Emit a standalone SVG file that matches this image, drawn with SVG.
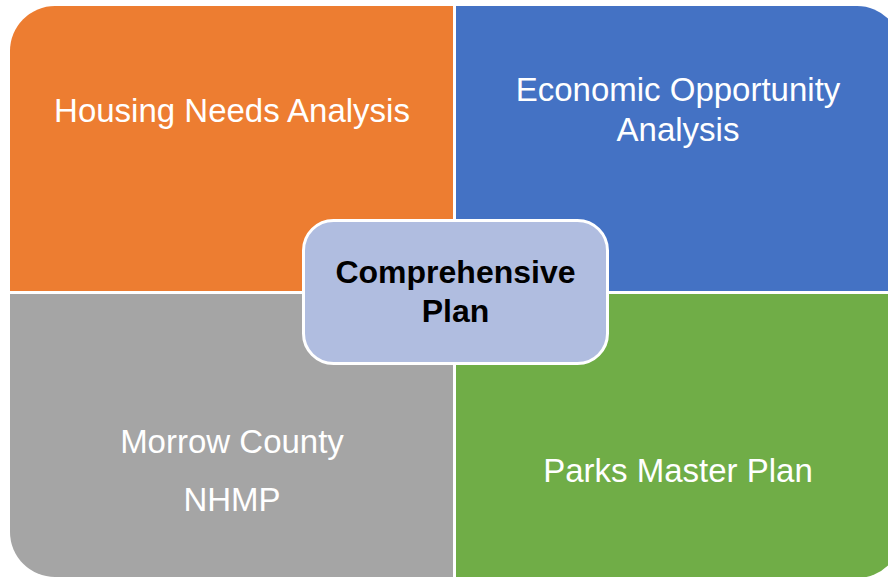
<svg xmlns="http://www.w3.org/2000/svg" width="888" height="577" viewBox="0 0 888 577">
  <style>
    .lbl { font-family: "Liberation Sans", Arial, sans-serif; font-size: 33px; fill: #FFFFFF; text-anchor: middle; }
    .ctr { font-family: "Liberation Sans", Arial, sans-serif; font-size: 32px; font-weight: bold; fill: #000000; text-anchor: middle; }
  </style>
  <rect x="0" y="0" width="888" height="577" fill="#FFFFFF"/>
  <g id="housing">
    <path d="M10,51 A45,45 0 0 1 55,6 L453,6 L453,291 L10,291 Z" fill="#ED7D31"/>
    <text class="lbl" x="232" y="122">Housing Needs Analysis</text>
  </g>
  <g id="economic">
    <path d="M456,6 L857,6 A45,45 0 0 1 902,51 L902,291 L456,291 Z" fill="#4472C4"/>
    <text class="lbl" x="678" y="101">Economic Opportunity</text>
    <text class="lbl" x="678" y="141">Analysis</text>
  </g>
  <g id="nhmp">
    <path d="M10,294 L453,294 L453,577 L55,577 A45,45 0 0 1 10,532 Z" fill="#A5A5A5"/>
    <text class="lbl" x="232" y="453">Morrow County</text>
    <text class="lbl" x="232" y="511">NHMP</text>
  </g>
  <g id="parks">
    <path d="M456,294 L902,294 L902,533 A45,45 0 0 1 857,578 L456,578 Z" fill="#70AD47"/>
    <text class="lbl" x="678" y="482">Parks Master Plan</text>
  </g>
  <g id="connectors"></g>
  <g id="comprehensive">
    <rect x="303.5" y="220.5" width="304" height="143" rx="30" ry="30" fill="#B0BDE0" stroke="#FFFFFF" stroke-width="3"/>
    <text class="ctr" x="455.5" y="283">Comprehensive</text>
    <text class="ctr" x="455.5" y="322">Plan</text>
  </g>
</svg>
